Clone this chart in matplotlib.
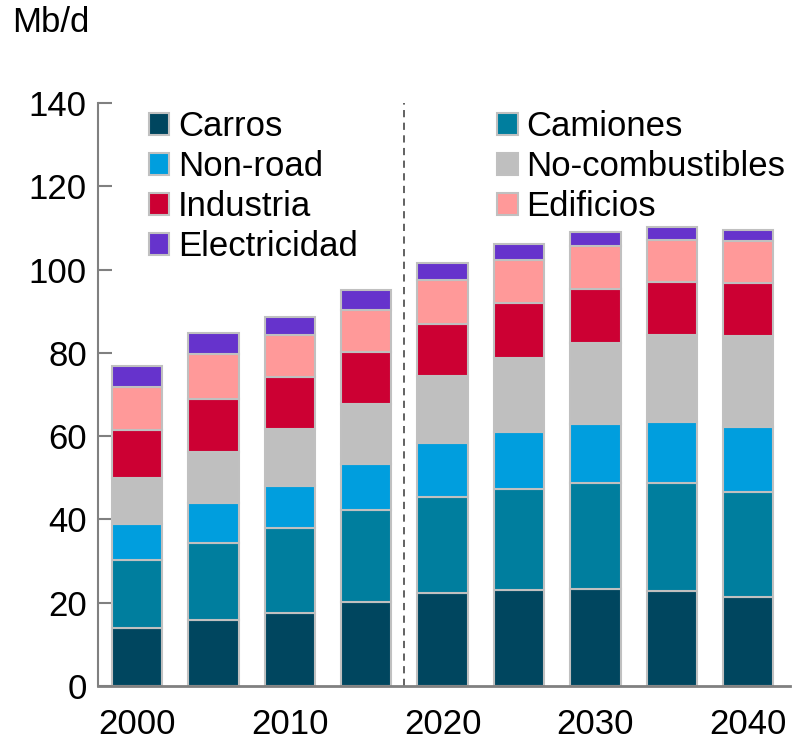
import matplotlib.pyplot as plt
import numpy as np

years = [2000, 2005, 2010, 2015, 2020, 2025, 2030, 2035, 2040]
tick_years = ['2000', '2010', '2020', '2030', '2040']

carros = [13.9, 15.8, 17.5, 20.2, 22.3, 23.1, 23.3, 22.8, 21.4]
camiones = [16.4, 18.5, 20.4, 22.1, 23.1, 24.2, 25.5, 26.0, 25.2]
non_road = [8.6, 9.6, 10.1, 11.0, 13.0, 13.7, 14.1, 14.6, 15.6]
no_comb = [11.1, 12.3, 13.7, 14.4, 16.0, 17.8, 19.5, 20.9, 21.9]
industria = [11.5, 12.7, 12.5, 12.5, 12.5, 13.2, 12.9, 12.7, 12.7]
edificios = [10.3, 10.8, 10.1, 10.1, 10.6, 10.3, 10.4, 10.1, 10.1]
electricidad = [5.0, 5.1, 4.3, 4.8, 4.1, 3.8, 3.3, 3.1, 2.6]

series = [
    ('Carros', carros, '#00465f'),
    ('Camiones', camiones, '#007e9e'),
    ('Non-road', non_road, '#009ede'),
    ('No-combustibles', no_comb, '#bfbfbf'),
    ('Industria', industria, '#cc0033'),
    ('Edificios', edificios, '#ff9999'),
    ('Electricidad', electricidad, '#6633cc'),
]

plt.rcParams['font.family'] = ['Liberation Sans', 'DejaVu Sans']

fig = plt.figure(figsize=(8.03, 7.44), dpi=100)
ax = fig.add_axes([0.122, 0.078, 0.862, 0.7836])

x = np.arange(len(years))
bottom = np.zeros(len(years))
handles = {}
for name, vals, col in series:
    b = ax.bar(x, vals, width=0.66, bottom=bottom, color=col,
               edgecolor='#c0c0c0', linewidth=1.5, label=name, zorder=2)
    handles[name] = b
    bottom += np.array(vals)

# divide history / projection
ax.axvline(3.5, color='#555555', linestyle=(0, (4, 3)), linewidth=1.3, zorder=1)

ax.set_xlim(-0.51, 8.55)
ax.set_ylim(0, 140)
ax.set_yticks(range(0, 141, 20))
ax.set_xticks(x[::2])
ax.set_xticklabels(tick_years)
ax.tick_params(axis='y', direction='in', length=10, width=1.5, color='#808080',
               labelsize=25, pad=8)
ax.tick_params(axis='x', length=0, labelsize=25, pad=16)
for s in ['top', 'right']:
    ax.spines[s].set_visible(False)
ax.spines['left'].set_color('#808080')
ax.spines['left'].set_linewidth(1.5)
ax.spines['bottom'].set_color('#808080')
ax.spines['bottom'].set_linewidth(2)

order = ['Carros', 'Non-road', 'Industria', 'Electricidad',
         'Camiones', 'No-combustibles', 'Edificios']
leg = ax.legend([handles[n] for n in order], order, ncol=2, loc='upper left',
                bbox_to_anchor=(0.053, 1.011), frameon=False, fontsize=25,
                handlelength=0.6, handleheight=0.6, handletextpad=0.25,
                columnspacing=4.0, labelspacing=0.2, borderaxespad=0)

fig.text(12 / 803, 1 - 22 / 744, 'Mb/d', fontsize=25, va='center', ha='left')

fig.savefig('out.png', dpi=100)
